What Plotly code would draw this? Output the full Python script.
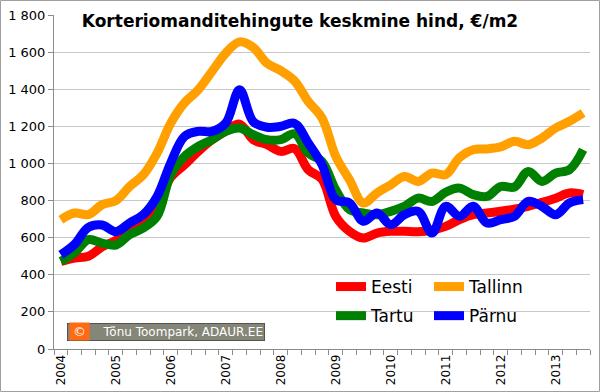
import plotly.graph_objects as go

years = ["2004", "2005", "2006", "2007", "2008", "2009", "2010", "2011", "2012", "2013"]
quarters = ["I", "II", "III", "IV"]
n_points = 39  # 2004 I .. 2013 III

eesti = [472, 490, 500, 550, 585, 643, 697, 778, 925, 993,
         1065, 1128, 1175, 1212, 1128, 1101, 1065, 1080, 966, 915,
         715, 634, 598, 625, 634, 634, 632, 641, 661, 697,
         724, 733, 742, 754, 769, 790, 813, 841, 832]
tallinn = [697, 733, 724, 778, 800, 876, 939, 1056, 1218, 1327,
           1397, 1496, 1595, 1655, 1625, 1540, 1500, 1445, 1334, 1245,
           1038, 912, 787, 841, 885, 930, 903, 948, 940, 1031,
           1074, 1078, 1089, 1119, 1101, 1137, 1191, 1227, 1272]
tartu = [472, 519, 589, 571, 560, 616, 652, 715, 940, 1038,
         1092, 1128, 1173, 1191, 1155, 1128, 1128, 1160, 1056, 1010,
         858, 751, 733, 724, 742, 769, 813, 795, 845, 867,
         832, 822, 876, 873, 957, 903, 948, 966, 1074]
parnu = [508, 565, 655, 668, 632, 679, 724, 822, 1005, 1146,
         1173, 1173, 1218, 1397, 1225, 1195, 1200, 1216, 1110, 993,
         805, 787, 688, 733, 670, 724, 742, 625, 769, 715,
         769, 679, 697, 715, 795, 769, 724, 787, 805]

categories = [f"{y} {q}" for y in years for q in quarters][:n_points]
xpos = list(range(len(categories)))
year_ticks = [i for i, c in enumerate(categories) if c.endswith(" I")]
year_text = [categories[i].split(" ")[0] for i in year_ticks]

series = [
    ("Eesti", eesti, "#FF0000", "legend"),
    ("Tallinn", tallinn, "#FF9F00", "legend2"),
    ("Tartu", tartu, "#008000", "legend"),
    ("Pärnu", parnu, "#0000FF", "legend2"),
]

fig = go.Figure()
for name, vals, col, lg in series:
    fig.add_trace(go.Scatter(
        x=xpos, y=vals, name=name, mode="lines",
        customdata=categories,
        line=dict(color=col, width=9, shape="spline", smoothing=1.0),
        legend=lg, legendgroup=name,
    ))

L, R, T, B = 54, 10, 15, 43
W, H = 600, 392
pw, ph = W - L - R, H - T - B

def px(x):
    return (x - L) / pw

def py(y):
    return (H - B - y) / ph

grid = "#C8C8C8"
axc = "#8C8C8C"

fig.update_layout(
    width=W, height=H,
    margin=dict(l=L, r=R, t=T, b=B, autoexpand=False),
    paper_bgcolor="white", plot_bgcolor="white",
    separators=", ",
    font=dict(family="DejaVu Sans", color="#000000"),
    xaxis=dict(
        range=[-0.5, n_points - 0.5], automargin=False,
        tickmode="array", tickvals=year_ticks, ticktext=year_text,
        ticks="", showticklabels=False,
        minor=dict(tick0=-0.5, dtick=1, ticks="outside", ticklen=5,
                   tickcolor=axc, showgrid=False),
        showgrid=False, showline=True, linecolor=axc, linewidth=1,
        zeroline=False,
    ),
    yaxis=dict(
        range=[0, 1800], dtick=200, tick0=0, tickformat=",d", automargin=False,
        showgrid=True, gridcolor=grid, gridwidth=1,
        showline=True, linecolor=axc, linewidth=1,
        ticks="outside", ticklen=5, tickcolor=axc,
        zeroline=False,
        tickfont=dict(size=13, family="DejaVu Sans", color="#000"),
    ),
    legend=dict(
        x=px(331), y=py(269), xanchor="left", yanchor="top",
        bgcolor="rgba(255,255,255,0)", font=dict(size=17, family="DejaVu Sans"),
        tracegroupgap=4, itemwidth=30,
    ),
    legend2=dict(
        x=px(429), y=py(269), xanchor="left", yanchor="top",
        bgcolor="rgba(255,255,255,0)", font=dict(size=17, family="DejaVu Sans"),
        tracegroupgap=4, itemwidth=30,
    ),
    showlegend=True,
)

# rotated year labels under the axis
for xv, txt in zip(year_ticks, year_text):
    fig.add_annotation(
        text=txt, xref="x", yref="paper", x=xv, y=py(353),
        xanchor="center", yanchor="top", textangle=-90, showarrow=False,
        font=dict(size=12, family="DejaVu Sans", color="#000"),
        borderpad=0,
    )

# white panel behind legend (covers gridlines)
fig.add_shape(type="rect", xref="paper", yref="paper",
              x0=px(343), x1=px(537), y0=py(331), y1=py(270),
              fillcolor="white", line=dict(width=0), layer="between")

# outer border
fig.add_shape(type="rect", xref="paper", yref="paper",
              x0=px(0.5), x1=px(W - 0.5), y0=py(H - 0.5), y1=py(0.5),
              line=dict(color="#A0A0A0", width=1), fillcolor="rgba(0,0,0,0)")

# title
fig.add_annotation(
    text="<b>Korteriomanditehingute keskmine hind, €/m2</b>",
    xref="paper", yref="paper", x=px(300), y=py(21),
    xanchor="center", yanchor="middle", showarrow=False,
    font=dict(size=17, family="DejaVu Sans", color="#000"),
    bgcolor="white", width=450,
)

# copyright box
fig.add_annotation(
    text="  Tõnu Toompark, ADAUR.EE",
    xref="paper", yref="paper", x=px(67), y=py(331.5),
    xanchor="left", yanchor="middle", showarrow=False,
    font=dict(size=12, family="DejaVu Sans", color="white"),
    bgcolor="#858578", bordercolor="#555550", borderwidth=1, borderpad=1,
    width=194, align="right",
)
fig.add_annotation(
    text="©",
    xref="paper", yref="paper", x=px(68.5), y=py(331.5),
    xanchor="left", yanchor="middle", showarrow=False,
    font=dict(size=13, family="DejaVu Sans", color="white"),
    bgcolor="#FF6A13", borderpad=1, width=17,
)

fig.write_html(
    "out.html",
    config={"displayModeBar": False},
    post_script="document.body.style.margin='0';document.body.style.overflow='hidden';",
)
